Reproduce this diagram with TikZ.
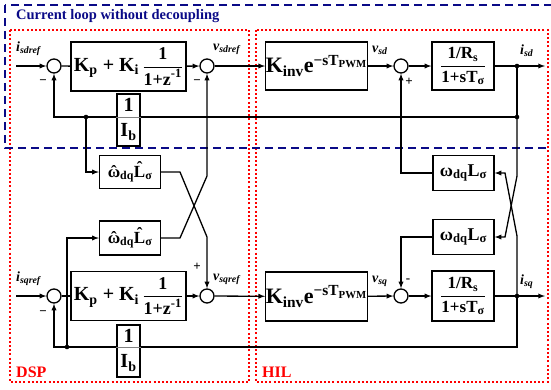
\documentclass[tikz,border=0pt]{standalone}
\usepackage{amsmath}
\usepackage{fontspec}
\setmainfont{Liberation Serif}
\usetikzlibrary{arrows.meta, calc, positioning}
\tikzset{>=latex}
\definecolor{navyline}{RGB}{10,10,135}
\tikzset{
  blk/.style={draw, line width=1.3pt, fill=white, inner sep=0pt, font=\bfseries\fontsize{20}{20}\selectfont},
  smallblk/.style={blk, font=\bfseries\fontsize{17}{17}\selectfont},
  sumc/.style={draw, circle, line width=1.3pt, minimum size=14pt, inner sep=0pt, fill=white},
  sig/.style={line width=1.3pt},
  lbl/.style={font=\bfseries\itshape\fontsize{14}{14}\selectfont, anchor=west, inner sep=0pt},
  sgn/.style={font=\bfseries\fontsize{13}{13}\selectfont, inner sep=0pt},
  dspbox/.style={red, line width=1.8pt, dash pattern=on 2pt off 2.2pt},
  loopbox/.style={navyline, line width=1.6pt, dash pattern=on 8pt off 5pt},
  tag/.style={font=\bfseries\fontsize{16}{16}\selectfont, anchor=west, inner sep=0pt}
}
\newcommand{\fracsz}{\fontsize{18}{18}\selectfont}
\newcommand{\pitxt}{K\textsubscript{p} + K\textsubscript{i}\,{\fracsz$\dfrac{\text{1}}{\text{1+z}^{\text{-1}}}$}}
\newcommand{\invtxt}{K\textsubscript{inv}e\textsuperscript{−sT\textsubscript{PWM}}}
\newcommand{\pltxt}{$\dfrac{\text{1/R}_{\text{s}}}{\text{1+sT}_{\text{σ}}}$}
\newcommand{\hatc}[1]{\accent"02C6 #1}
\newcommand{\hattxt}{\hatc{ω}\textsubscript{dq}\hatc{L}\textsubscript{σ}}
\newcommand{\wltxt}{ω\textsubscript{dq}L\textsubscript{σ}}

\begin{document}
\begin{tikzpicture}[x=1pt, y=-1pt]
\useasboundingbox (0,0) rectangle (551,389);
% frames
\draw[dspbox] (10,30) rectangle (249,382);
\draw[dspbox] (256,30) rectangle (548,382);
\draw[loopbox] (5,5) rectangle (558,148);
\node[tag, font=\bfseries\fontsize{14.5}{14.5}\selectfont, text=navyline] (title) at (16,16) {Current loop without decoupling};
\node[tag, text=red] (dsp) at (16,372) {DSP};
\node[tag, text=red] (hil) at (262,372) {HIL};

% d axis
\node[sumc] (sd1) at (54,66) {};
\node[blk, minimum width=115, minimum height=49] (pid) at (128.5,66.5) {\pitxt};
\node[sumc] (sd2) at (207,66) {};
\node[blk, font=\bfseries\fontsize{22}{22}\selectfont, minimum width=99, minimum height=48] (invd) at (316.5,66) {\invtxt};
\node[sumc] (sd3) at (401,66) {};
\node[smallblk, minimum width=62, minimum height=48] (pld) at (463,66) {\pltxt};
\node[blk, minimum width=23, minimum height=52] (ibd) at (128.5,120) {};
\node[blk, draw=none, fill=none] (ibdn) at (128.5,105) {1};
\node[blk, draw=none, fill=none] (ibdd) at (128.5,132) {I\textsubscript{b}};
\node[smallblk, minimum width=61, minimum height=33] (whd) at (130,172) {\hattxt};
\node[smallblk, font=\bfseries\fontsize{18}{18}\selectfont, minimum width=61, minimum height=35] (wpd) at (463.5,173) {\wltxt};

% q axis
\node[sumc] (sq1) at (54,296) {};
\node[blk, minimum width=115, minimum height=49] (piq) at (128.5,296) {\pitxt};
\node[sumc] (sq2) at (207,296) {};
\node[blk, font=\bfseries\fontsize{22}{22}\selectfont, minimum width=99, minimum height=49] (invq) at (316.5,296.5) {\invtxt};
\node[sumc] (sq3) at (401,296) {};
\node[smallblk, minimum width=62, minimum height=50] (plq) at (463,296) {\pltxt};
\node[blk, minimum width=23, minimum height=52] (ibq) at (128.5,351) {};
\node[blk, draw=none, fill=none] (ibqn) at (128.5,336) {1};
\node[blk, draw=none, fill=none] (ibqd) at (128.5,363) {I\textsubscript{b}};
\node[smallblk, minimum width=61, minimum height=34] (whq) at (130,238) {\hattxt};
\node[smallblk, font=\bfseries\fontsize{18}{18}\selectfont, minimum width=61, minimum height=35] (wpq) at (463.5,237) {\wltxt};

\coordinate (ind) at (16,66);
\coordinate (outd) at (545,66);
\coordinate (jd1) at (517,66);
\coordinate (jd2) at (517,117);
\coordinate (jd3) at (86,117);
\coordinate (inq) at (16,296);
\coordinate (outq) at (545,296);
\coordinate (jq1) at (517,296);
\coordinate (jq2) at (517,347);
\coordinate (jq3) at (67,347);

% fraction bars of 1/I_b
\draw[gray, line width=0.8pt] (ibd.west |- jd2) -- (ibd.east |- jd2);
\draw[gray, line width=0.8pt] (ibq.west |- jq2) -- (ibq.east |- jq2);

% d path
\draw[sig,->] (ind) -- (sd1);
\draw[sig] (sd1) -- (pid);
\draw[sig,->] (pid) -- (sd2);
\draw[sig,->] (sd2) -- (invd);
\draw[sig,->] (invd) -- (sd3);
\draw[sig,->] (sd3) -- (pld);
\draw[sig,->] (pld) -- (outd);
\draw[sig] (jd1) -- (jd2) -- (ibd.east |- jd2);
\draw[sig,->] (ibd.west |- jd2) -| (sd1);
\draw[sig,->] (jd3) |- (whd);

% q path
\draw[sig,->] (inq) -- (sq1);
\draw[sig] (sq1) -- (piq);
\draw[sig,->] (piq) -- (sq2);
\draw[sig,->] (sq2) -- (invq);
\draw[sig,->] (invq) -- (sq3);
\draw[sig,->] (sq3) -- (plq);
\draw[sig,->] (plq) -- (outq);
\draw[sig] (jq1) -- (jq2) -- (ibq.east |- jq2);
\draw[sig,->] (ibq.west |- jq2) -| (sq1);
\draw[sig,->] (jq3) |- (whq);

% cross coupling
\draw[sig,->] (whd) -- (180,172) -- (207,237) -- (sq2);
\draw[sig,->] (whq) -- (180,238) -- (207,176) -- (sd2);
\draw[sig,->] (jq1) -- (517,236) -- (505,173) -- (wpd);
\draw[sig,->] (jd2) -- (517,176) -- (505,237) -- (wpq);
\draw[sig,->] (wpd) -| (sd3);
\draw[sig,->] (wpq) -| (sq3);

\foreach \p in {jd1,jd2,jd3,jq1,jq3}
  \fill (\p) circle (2.3pt);

% labels
\node[lbl] (lisd) at (16,49) {i\textsubscript{sdref}};
\node[lbl] (lvsd) at (213,49) {v\textsubscript{sdref}};
\node[lbl] (lvd) at (372,50) {v\textsubscript{sd}};
\node[lbl] (lid) at (520,51) {i\textsubscript{sd}};
\node[lbl] (lisq) at (16,279) {i\textsubscript{sqref}};
\node[lbl] (lvsq) at (213,279) {v\textsubscript{sqref}};
\node[lbl] (lvq) at (372,281) {v\textsubscript{sq}};
\node[lbl] (liq) at (520,282) {i\textsubscript{sq}};
\node[sgn] (m1) at (43,82) {−};
\node[sgn] (m2) at (197,82) {−};
\node[sgn] (m3) at (43,313) {−};
\node[sgn] (p1) at (197,267) {+};
\node[sgn] (p2) at (409,82) {+};
\node[sgn] (m4) at (408,281) {-};
\end{tikzpicture}
\end{document}
